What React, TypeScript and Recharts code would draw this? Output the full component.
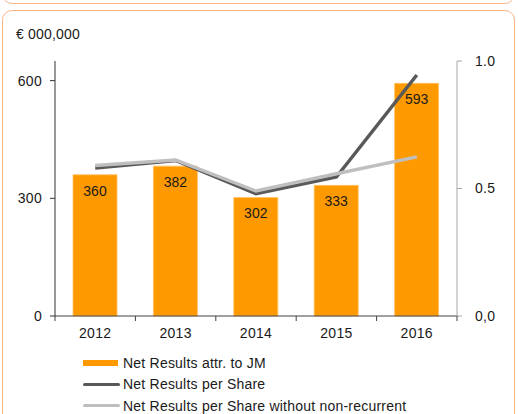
import { ComposedChart, Bar, Line, XAxis, YAxis, LabelList } from 'recharts';

const YEARS = ['2012', '2013', '2014', '2015', '2016'];
const NET_RESULTS = [360, 382, 302, 333, 593];
const NET_PER_SHARE = [0.58, 0.61, 0.48, 0.545, 0.945];
const NET_PER_SHARE_RECURRENT = [0.59, 0.612, 0.49, 0.558, 0.624];

const LEFT_TICKS = [0, 300, 600];
const RIGHT_TICKS = [0, 0.5, 1];
const RIGHT_TICK_LABELS = ['0,0', '0.5', '1.0'];

const UNIT_LABEL = '€ 000,000';
const SERIES_NAMES = [
  'Net Results attr. to JM',
  'Net Results per Share',
  'Net Results per Share without non-recurrent',
];

const ORANGE = '#ff9900';
const DARK_GREY = '#595959';
const LIGHT_GREY = '#bfbfbf';
const FRAME = '#fdb88a';
const FONT = '"Liberation Sans", Arial, sans-serif';

const data = YEARS.map((year, i) => ({
  year,
  net: NET_RESULTS[i],
  eps: NET_PER_SHARE[i],
  epsRec: NET_PER_SHARE_RECURRENT[i],
}));

// category labels centred, tick marks on the band boundaries
function YearTick(props: any) {
  const { x, y, payload, index, width, visibleTicksCount } = props;
  const half = payload?.offset || width / (visibleTicksCount || 5) / 2;
  return (
    <g>
      {index === 0 && <line x1={x - half} x2={x - half} y1={y} y2={y + 5} stroke="#404040" />}
      <line x1={x + half} x2={x + half} y1={y} y2={y + 5} stroke="#404040" />
      <text
        x={x}
        y={y + 22}
        textAnchor="middle"
        fontSize={14}
        fill="#1a1a1a"
        fontFamily={FONT}
        style={{ letterSpacing: 0.3 }}
      >
        {payload.value}
      </text>
    </g>
  );
}

const legendItems = [
  { name: SERIES_NAMES[0], color: ORANGE, bar: true },
  { name: SERIES_NAMES[1], color: DARK_GREY, bar: false },
  { name: SERIES_NAMES[2], color: LIGHT_GREY, bar: false },
];

export default function App() {
  return (
    <div
      style={{
        position: 'absolute',
        left: 0,
        top: 0,
        width: 518,
        height: 414,
        overflow: 'hidden',
        background: '#fff',
        fontFamily: FONT,
      }}
    >
      {/* frames */}
      <div
        style={{
          position: 'absolute',
          left: 2,
          top: -30,
          width: 511,
          height: 32,
          border: `1.5px solid ${FRAME}`,
          borderRadius: 10,
        }}
      />
      <div
        style={{
          position: 'absolute',
          left: 2,
          top: 10,
          width: 511,
          height: 440,
          border: `1.5px solid ${FRAME}`,
          borderRadius: 10,
        }}
      />
      <div
        style={{ position: 'absolute', left: 16, top: 26, fontSize: 14, color: '#1a1a1a', letterSpacing: 0.2 }}
      >
        {UNIT_LABEL}
      </div>

      <div style={{ position: 'absolute', left: 0, top: 0 }}>
        <ComposedChart
          width={518}
          height={414}
          data={data}
          margin={{ top: 61, right: 0, left: 0, bottom: 68 }}
        >
          <XAxis
            dataKey="year"
            height={30}
            tickLine={false}
            tickSize={0}
            tickMargin={0}
            stroke="#404040"
            tick={<YearTick />}
          />
          <YAxis
            yAxisId="left"
            width={55}
            domain={[0, 650]}
            ticks={LEFT_TICKS}
            tickSize={5}
            tickMargin={8}
            stroke="#333"
            tick={{ fontSize: 14, fill: '#1a1a1a', fontFamily: FONT, style: { letterSpacing: 0.3 } }}
          />
          <YAxis
            yAxisId="right"
            orientation="right"
            width={61}
            domain={[0, 1]}
            ticks={RIGHT_TICKS}
            tickSize={5}
            tickMargin={13}
            stroke="#a6a6a6"
            tickFormatter={(v: number) => RIGHT_TICK_LABELS[RIGHT_TICKS.indexOf(v)] ?? String(v)}
            tick={{ fontSize: 14, fill: '#1a1a1a', fontFamily: FONT, textAnchor: 'start', style: { letterSpacing: 0.3 } }}
          />
          <Bar
            yAxisId="left"
            dataKey="net"
            fill={ORANGE}
            stroke="#ffc266"
            strokeWidth={0.8}
            barSize={44}
            isAnimationActive={false}
          >
            <LabelList
              dataKey="net"
              position="insideTop"
              offset={11}
              fontSize={14}
              fill="#1a1a1a"
              fontFamily={FONT}
            />
          </Bar>
          <Line
            yAxisId="right"
            dataKey="eps"
            stroke={DARK_GREY}
            strokeWidth={3.5}
            dot={false}
            isAnimationActive={false}
          />
          <Line
            yAxisId="right"
            dataKey="epsRec"
            stroke={LIGHT_GREY}
            strokeWidth={3.5}
            dot={false}
            isAnimationActive={false}
          />
        </ComposedChart>
      </div>

      {/* legend */}
      <div style={{ position: 'absolute', left: 83, top: 352 }}>
        {legendItems.map((item) => (
          <div
            key={item.name}
            style={{
              display: 'flex',
              alignItems: 'center',
              height: 21.5,
              fontSize: 14,
              lineHeight: '16px',
              color: '#1a1a1a',
              letterSpacing: 0.22,
              whiteSpace: 'nowrap',
            }}
          >
            <div
              style={{
                width: item.bar ? 35 : 37,
                height: item.bar ? 6 : 3,
                background: item.color,
                borderRadius: item.bar ? 0 : 2,
                marginRight: item.bar ? 5 : 3,
              }}
            />
            <span>{item.name}</span>
          </div>
        ))}
      </div>
    </div>
  );
}
